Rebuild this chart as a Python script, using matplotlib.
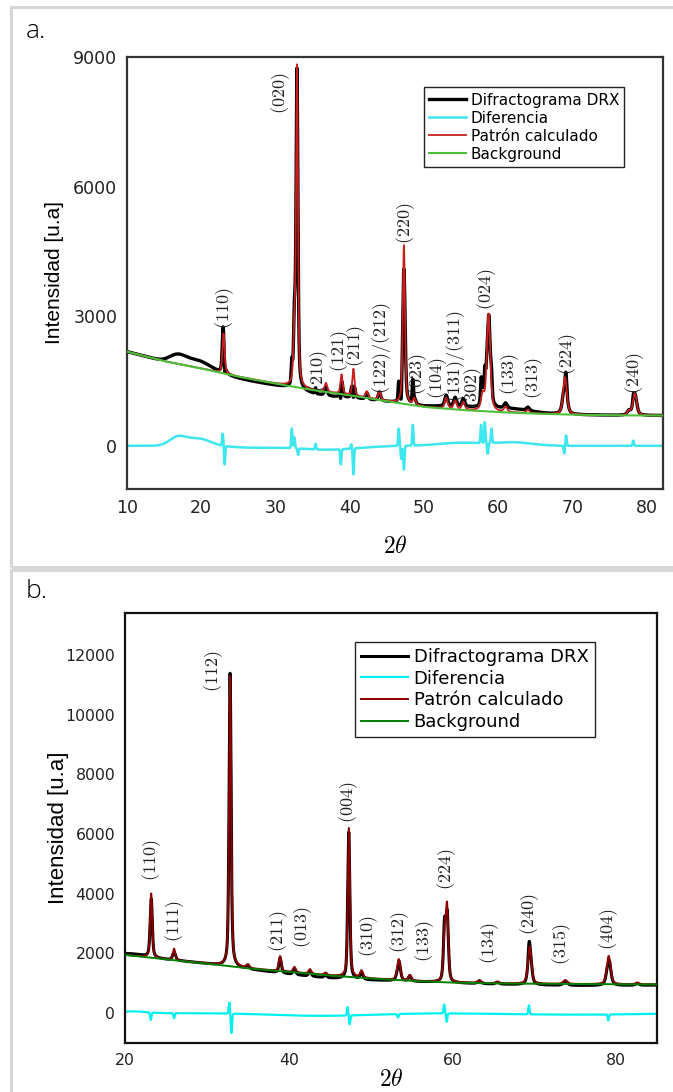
import matplotlib
matplotlib.use("Agg")
import matplotlib.pyplot as plt
import numpy as np

plt.rcParams['mathtext.fontset'] = 'cm'
plt.rcParams['font.family'] = ['DejaVu Sans']

# ---------------- panel a ----------------
# fondo (background)
fondo_a_x = [10, 15, 20, 25, 30, 35, 40, 45, 50, 55, 60, 65, 70, 76, 82.2]
fondo_a_y = [2180, 1960, 1790, 1600, 1440, 1290, 1170, 1030, 900, 830, 780, 745, 720, 705, 700]

# picos del patron calculado: posicion, altura sobre el fondo, FWHM
picos_a_pos = [23.0, 32.55, 32.9, 36.8, 38.9, 40.5, 42.3, 44.0, 47.3, 48.7, 53.0, 54.2, 55.3,
               57.9, 58.7, 61.0, 64.0, 69.0, 77.6, 78.4]
picos_a_alt = [920, 1200, 7370, 200, 450, 620, 150, 200, 3670, 150, 250, 200, 180,
               350, 2250, 120, 80, 860, 100, 505]
picos_a_fwhm = [0.35, 0.3, 0.3, 0.4, 0.35, 0.35, 0.4, 0.4, 0.35, 0.4, 0.45, 0.45, 0.45,
                0.5, 0.55, 0.5, 0.5, 0.6, 0.5, 0.6]

# diferencia: rasgos anchos y picos agudos
lentos_a_pos = [16.8, 19.6, 27, 37, 55, 62]
lentos_a_amp = [190, 170, -40, -90, 70, 80]
lentos_a_sig = [1.1, 1.6, 3, 4, 3, 2.5]
agudos_a_pos = [22.9, 23.15, 32.2, 32.55, 33.05, 35.4, 38.8, 40.2, 40.5, 46.6, 46.95, 47.3, 48.5,
                57.7, 58.2, 58.6, 59.1, 68.9, 69.15, 78.2]
agudos_a_amp = [280, -430, 450, 250, -150, 130, -350, 100, -600, 400, -300, -550, 480,
                420, 480, -250, 330, -180, 240, 120]

rotulos_a = ['(110)', '(020)', '(210)', '(121)', '(211)', '(122)/(212)', '(220)', '(023)', '(104)',
             '(131)/(311)', '(302)', '(024)', '(133)', '(313)', '(224)', '(240)']
rotulos_a_x = [23.2, 30.7, 35.8, 38.6, 40.8, 44.3, 47.5, 49.1, 51.8, 54.2, 56.5, 58.4, 61.6, 64.8, 69.4, 78.4]
rotulos_a_y = [2700, 7675, 1250, 1700, 1830, 1210, 4675, 1170, 1090, 1010, 860, 3155, 1170, 1090, 1640, 1210]

# ---------------- panel b ----------------
fondo_b_x = [20, 25, 30, 35, 40, 45, 50, 55, 60, 65, 70, 77, 85]
fondo_b_y = [1950, 1800, 1660, 1500, 1380, 1260, 1160, 1080, 1020, 995, 985, 970, 960]

picos_b_pos = [23.2, 26.0, 32.85, 35.0, 38.95, 40.7, 42.6, 44.5, 47.35, 48.9, 53.45, 54.8,
               59.05, 59.35, 63.3, 65.5, 69.45, 73.8, 79.1, 82.6]
picos_b_alt = [2150, 380, 9750, 120, 500, 180, 150, 80, 5000, 230, 700, 180,
               1500, 2400, 90, 60, 1250, 130, 950, 60]
picos_b_fwhm = [0.3, 0.35, 0.3, 0.4, 0.35, 0.4, 0.4, 0.4, 0.3, 0.4, 0.45, 0.4,
                0.35, 0.35, 0.5, 0.5, 0.5, 0.6, 0.55, 0.5]

lentos_b_pos = [21, 44, 75]
lentos_b_amp = [60, -90, -50]
lentos_b_sig = [1.5, 6, 8]
agudos_b_pos = [23.15, 26.0, 32.75, 33.0, 47.2, 47.45, 53.35, 59.0, 59.3, 69.35, 79.05]
agudos_b_amp = [-250, -170, 380, -650, 280, -300, -120, 300, -280, 300, -200]

rotulos_b = ['(110)', '(111)', '(112)', '(211)', '(013)', '(004)', '(310)', '(312)', '(133)',
             '(224)', '(134)', '(240)', '(315)', '(404)']
rotulos_b_x = [23.3, 26.1, 30.8, 38.8, 41.7, 47.3, 49.8, 53.5, 56.6, 59.3, 64.5, 69.5, 73.4, 79.1]
rotulos_b_y = [4415, 2390, 10770, 2056, 2170, 6370, 1865, 2000, 1720, 4135, 1660, 2620, 1600, 2110]

LEYENDA = ['Difractograma DRX', 'Diferencia', 'Patrón calculado', 'Background']


def pico(x, pos, alt, fwhm, eta=0.5):
    d = (x - pos) / fwhm
    return alt * (eta / (1 + 4 * d ** 2) + (1 - eta) * np.exp(-4 * np.log(2) * d ** 2))


def calcular(x, fondo_x, fondo_y, pos, alt, fwhm):
    y = np.interp(x, fondo_x, fondo_y)
    for p, a, w in zip(pos, alt, fwhm):
        y = y + pico(x, p, a, w)
    return y


def diferencia(x, lp, la, ls, ap, aa, sig=0.08):
    d = np.zeros_like(x)
    for p, a, s in zip(lp, la, ls):
        d += a * np.exp(-0.5 * ((x - p) / s) ** 2)
    for p, a in zip(ap, aa):
        d += a * np.exp(-0.5 * ((x - p) / sig) ** 2)
    return d


def dibujar_panel(ax, x, fondo_x, fondo_y, picos, dif, cores, larguras, rotulos, fs_rot):
    calc = calcular(x, fondo_x, fondo_y, *picos)
    dif_y = diferencia(x, *dif)
    obs = calc + dif_y
    l_obs, = ax.plot(x, obs, color=cores[0], lw=larguras[0], zorder=2)
    l_dif, = ax.plot(x, dif_y, color=cores[1], lw=larguras[1], zorder=2)
    l_calc, = ax.plot(x, calc, color=cores[2], lw=larguras[2], zorder=3)
    l_bg, = ax.plot(x, np.interp(x, fondo_x, fondo_y), color=cores[3], lw=larguras[3], zorder=4)
    for txt, rx, ry in zip(*rotulos):
        ax.text(rx, ry, '$' + txt + '$', rotation=90, ha='center', va='bottom',
                fontsize=fs_rot, color='#222222')
    ax.tick_params(length=0)
    return [l_obs, l_dif, l_calc, l_bg]


fig = plt.figure(figsize=(6.73, 10.92), dpi=100)

# bordes grises de cada panel
for y0, h in [(1 - 567 / 1092, 560 / 1092), (-0.05, 1 - 570 / 1092 + 0.05)]:
    fig.add_artist(plt.Rectangle((11 / 673, y0), 1.1, h, transform=fig.transFigure,
                                 fill=False, ec='#d6d6d6', lw=2.2))

fig.text(26 / 673, 1 - 38 / 1092, 'a.', fontsize=19, family='Open Sans', weight='light', va='baseline')
fig.text(26 / 673, 1 - 598 / 1092, 'b.', fontsize=19, family='Open Sans', weight='light', va='baseline')

# ----- a -----
ax_a = fig.add_axes([127 / 673, 1 - 489 / 1092, 536 / 673, 432 / 1092])
x_a = np.arange(10, 82.21, 0.02)
linhas_a = dibujar_panel(ax_a, x_a, fondo_a_x, fondo_a_y,
                         (picos_a_pos, picos_a_alt, picos_a_fwhm),
                         (lentos_a_pos, lentos_a_amp, lentos_a_sig, agudos_a_pos, agudos_a_amp),
                         ['black', '#3ee6ee', '#c81e1e', '#4cbf3a'], [2.4, 1.8, 1.3, 1.5],
                         (rotulos_a, rotulos_a_x, rotulos_a_y), 13)
ax_a.set_xlim(10, 82.2)
ax_a.set_ylim(-1000, 9000)
ax_a.set_xticks(range(10, 81, 10))
ax_a.set_yticks([0, 3000, 6000, 9000])
ax_a.tick_params(labelsize=12.5, pad=7, labelcolor='#222222')
for s in ax_a.spines.values():
    s.set_linewidth(1.6)
    s.set_color('#333333')
ax_a.set_ylabel('Intensidad [u.a]', fontsize=15, family='Liberation Sans')
ax_a.yaxis.set_label_coords(-0.1175, 0.5)
ax_a.set_xlabel(r'$2\theta$', fontsize=17)
ax_a.xaxis.set_label_coords(0.5, -0.104)
ax_a.legend(linhas_a, LEYENDA, loc='upper left', bbox_to_anchor=(0.554, 0.93), fontsize=11,
            frameon=True, fancybox=False, edgecolor='#222222', framealpha=1,
            handlelength=2.4, handletextpad=0.3, labelspacing=0.2, borderpad=0.35,
            borderaxespad=0).get_frame().set_linewidth(1.0)

# ----- b -----
ax_b = fig.add_axes([125 / 673, 1 - 1043 / 1092, 532 / 673, 430 / 1092])
x_b = np.arange(20, 85.01, 0.02)
linhas_b = dibujar_panel(ax_b, x_b, fondo_b_x, fondo_b_y,
                         (picos_b_pos, picos_b_alt, picos_b_fwhm),
                         (lentos_b_pos, lentos_b_amp, lentos_b_sig, agudos_b_pos, agudos_b_amp),
                         ['black', '#00f0f0', '#8b0000', '#008000'], [2.2, 1.6, 1.4, 1.4],
                         (rotulos_b, rotulos_b_x, rotulos_b_y), 13)
ax_b.set_xlim(20, 85)
ax_b.set_ylim(-1000, 13400)
ax_b.set_xticks([20, 40, 60, 80])
ax_b.set_yticks(range(0, 12001, 2000))
ax_b.tick_params(labelsize=11.3, pad=7, labelcolor='#222222')
for s in ax_b.spines.values():
    s.set_linewidth(1.6)
    s.set_color('#111111')
ax_b.set_ylabel('Intensidad [u.a]', fontsize=16, family='Liberation Sans')
ax_b.yaxis.set_label_coords(-0.105, 0.5)
ax_b.set_xlabel(r'$2\theta$', fontsize=17)
ax_b.xaxis.set_label_coords(0.5, -0.056)
ax_b.legend(linhas_b, LEYENDA, loc='upper left', bbox_to_anchor=(0.432, 0.933), fontsize=13,
            frameon=True, fancybox=False, edgecolor='#222222', framealpha=1,
            handlelength=2.6, handletextpad=0.3, labelspacing=0.2, borderpad=0.35,
            borderaxespad=0).get_frame().set_linewidth(1.0)

fig.savefig('out.png', dpi=100)
